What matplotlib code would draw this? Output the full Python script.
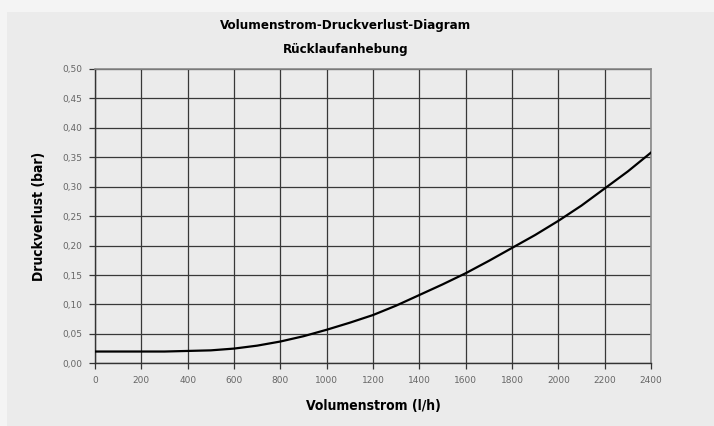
import matplotlib
matplotlib.use("Agg")
import matplotlib.pyplot as plt
from matplotlib.patches import Rectangle

# Data
flow = [0, 100, 200, 300, 400, 500, 600, 700, 800, 900, 1000, 1100, 1200,
        1300, 1400, 1500, 1600, 1700, 1800, 1900, 2000, 2100, 2200, 2300, 2400]
dp = [0.020, 0.020, 0.020, 0.020, 0.021, 0.022, 0.025, 0.030, 0.037, 0.046,
      0.057, 0.069, 0.082, 0.098, 0.116, 0.134, 0.153, 0.174, 0.196, 0.218,
      0.242, 0.268, 0.297, 0.326, 0.358]
x_ticks = list(range(0, 2401, 200))
y_ticks = [i * 0.05 for i in range(11)]
y_labels = ["0,00", "0,05", "0,10", "0,15", "0,20", "0,25", "0,30", "0,35",
            "0,40", "0,45", "0,50"]

W, H = 714, 426
fig = plt.figure(figsize=(W / 100, H / 100), dpi=100)
fig.patch.set_facecolor("#f4f4f4")
fig.patches.append(Rectangle((7 / W, 0), 1, 1 - 12 / H, transform=fig.transFigure,
                             facecolor="#ebebeb", edgecolor="none", zorder=-5))

ax = fig.add_axes([95 / W, 1 - 363.3 / H, (651 - 95) / W, (363.3 - 69) / H])
ax.set_zorder(2)
ax.set_facecolor("#ebebeb")
ax.plot(flow, dp, color="black", lw=1.6, zorder=3)

ax.set_xlim(0, 2400)
ax.set_ylim(0, 0.5)
ax.set_xticks(x_ticks)
ax.set_xticklabels([str(v) for v in x_ticks])
ax.set_yticks(y_ticks)
ax.set_yticklabels(y_labels)
ax.grid(True, color="#383838", lw=0.9)
ax.set_axisbelow(True)
for s in ["top", "right"]:
    ax.spines[s].set_color("#888888")
    ax.spines[s].set_linewidth(1.2)
for s in ["left", "bottom"]:
    ax.spines[s].set_color("#333333")
    ax.spines[s].set_linewidth(1.0)
ax.tick_params(axis="both", labelsize=6.5, labelcolor="#666666", color="#333333",
               length=4, width=0.9)
ax.tick_params(axis="x", pad=5)
ax.tick_params(axis="y", pad=5)

tfont = dict(family="DejaVu Sans", stretch="condensed", fontweight="bold")
ax.set_xlabel("Volumenstrom (l/h)", fontsize=10, labelpad=10, **tfont)
ax.set_ylabel("Druckverlust (bar)", fontsize=10, labelpad=12, **tfont)

fig.text(346 / W, 1 - 26 / H, "Volumenstrom-Druckverlust-Diagram", ha="center",
         va="center", fontsize=9.5, **tfont)
fig.text(346 / W, 1 - 50 / H, "Rücklaufanhebung", ha="center", va="center",
         fontsize=9.5, **tfont)

fig.savefig("out.png", dpi=100, facecolor=fig.get_facecolor())
